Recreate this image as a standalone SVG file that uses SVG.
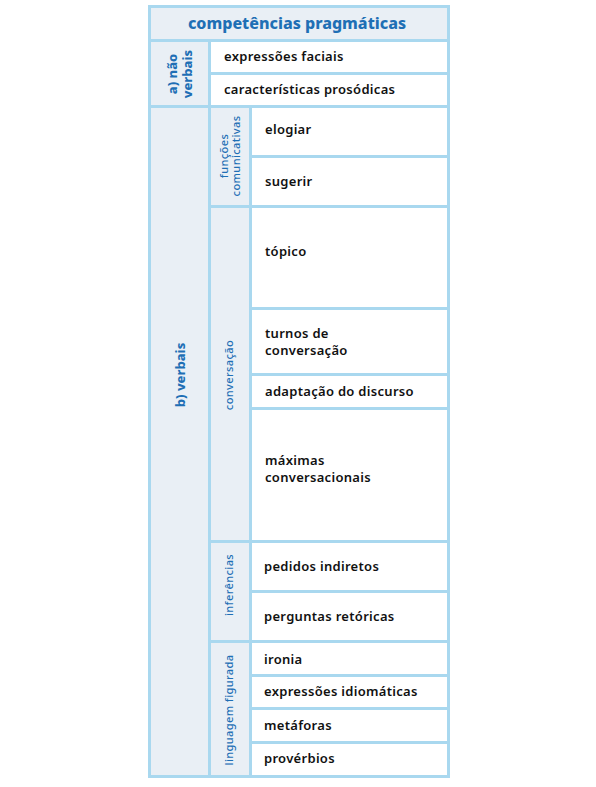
<svg xmlns="http://www.w3.org/2000/svg" width="596" height="787" viewBox="0 0 596 787">
<style>
.bg{fill:#a9d8ef}
.lab{fill:#e9eff5}
.cell{fill:#ffffff}
.t{font-family:"Noto Sans","Liberation Sans",sans-serif;font-size:13px;font-weight:600;fill:#111111;letter-spacing:0.3px}
.h{font-family:"Noto Sans","Liberation Sans",sans-serif;font-size:16px;font-weight:800;fill:#1f6fb5;text-anchor:middle}
.l1{font-family:"Noto Sans","Liberation Sans",sans-serif;font-size:13px;font-weight:800;fill:#1f6fb5;text-anchor:middle}
.l2{font-family:"Noto Sans","Liberation Sans",sans-serif;font-size:11px;font-weight:500;fill:#1f6fb5;text-anchor:middle;letter-spacing:0.4px}
</style>
<rect class="bg" x="148" y="5" width="302" height="773"/>
<g id="header"><rect class="lab" x="151" y="8" width="296" height="31"/><text class="h" x="297" y="29">competências pragmáticas</text></g>
<g id="nao-verbais">
<rect class="lab" x="151" y="42" width="57" height="63"/>
<text class="l1" transform="translate(180 74) rotate(-90)"><tspan x="0" y="-3">a) não</tspan><tspan x="0" y="12">verbais</tspan></text>
</g>
<g id="expressoes-faciais"><rect class="cell" x="211" y="42" width="236" height="30"/><text class="t" x="224" y="61">expressões faciais</text></g>
<g id="caracteristicas-prosodicas"><rect class="cell" x="211" y="75" width="236" height="30"/><text class="t" x="224" y="94">características prosódicas</text></g>
<g id="verbais">
<rect class="lab" x="151" y="108" width="57" height="667"/>
<text class="l1" transform="translate(185 375) rotate(-90)" x="0" y="0">b) verbais</text>
</g>
<g id="funcoes-comunicativas">
<rect class="lab" x="211" y="108" width="38" height="97"/>
<text class="l2" transform="translate(230 156) rotate(-90)"><tspan x="0" y="-2">funções</tspan><tspan x="0" y="10">comunicativas</tspan></text>
</g>
<g id="elogiar"><rect class="cell" x="252" y="108" width="195" height="47"/><text class="t" x="265" y="134">elogiar</text></g>
<g id="sugerir"><rect class="cell" x="252" y="158" width="195" height="47"/><text class="t" x="265" y="186">sugerir</text></g>
<g id="conversacao">
<rect class="lab" x="211" y="208" width="38" height="332"/>
<text class="l2" transform="translate(233 375) rotate(-90)" x="0" y="0">conversação</text>
</g>
<g id="topico"><rect class="cell" x="252" y="208" width="195" height="99"/><text class="t" x="265" y="256">tópico</text></g>
<g id="turnos"><rect class="cell" x="252" y="310" width="195" height="63"/><text class="t"><tspan x="265" y="338">turnos de</tspan><tspan x="265" y="355">conversação</tspan></text></g>
<g id="adaptacao"><rect class="cell" x="252" y="376" width="195" height="31"/><text class="t" x="265" y="396">adaptação do discurso</text></g>
<g id="maximas"><rect class="cell" x="252" y="410" width="195" height="130"/><text class="t"><tspan x="265" y="465">máximas</tspan><tspan x="265" y="482">conversacionais</tspan></text></g>
<g id="inferencias">
<rect class="lab" x="211" y="543" width="38" height="97"/>
<text class="l2" transform="translate(233 585) rotate(-90)" x="0" y="0">inferências</text>
</g>
<g id="pedidos"><rect class="cell" x="252" y="543" width="195" height="47"/><text class="t" x="264" y="571">pedidos indiretos</text></g>
<g id="perguntas"><rect class="cell" x="252" y="593" width="195" height="47"/><text class="t" x="264" y="621">perguntas retóricas</text></g>
<g id="linguagem-figurada">
<rect class="lab" x="211" y="643" width="38" height="132"/>
<text class="l2" transform="translate(233 710) rotate(-90)" x="0" y="0">linguagem figurada</text>
</g>
<g id="ironia"><rect class="cell" x="252" y="643" width="195" height="31"/><text class="t" x="264" y="664">ironia</text></g>
<g id="expressoes-idiomaticas"><rect class="cell" x="252" y="677" width="195" height="30"/><text class="t" x="264" y="696">expressões idiomáticas</text></g>
<g id="metaforas"><rect class="cell" x="252" y="710" width="195" height="31"/><text class="t" x="264" y="730">metáforas</text></g>
<g id="proverbios"><rect class="cell" x="252" y="744" width="195" height="31"/><text class="t" x="264" y="763">provérbios</text></g>
<g id="connectors"/>
</svg>
